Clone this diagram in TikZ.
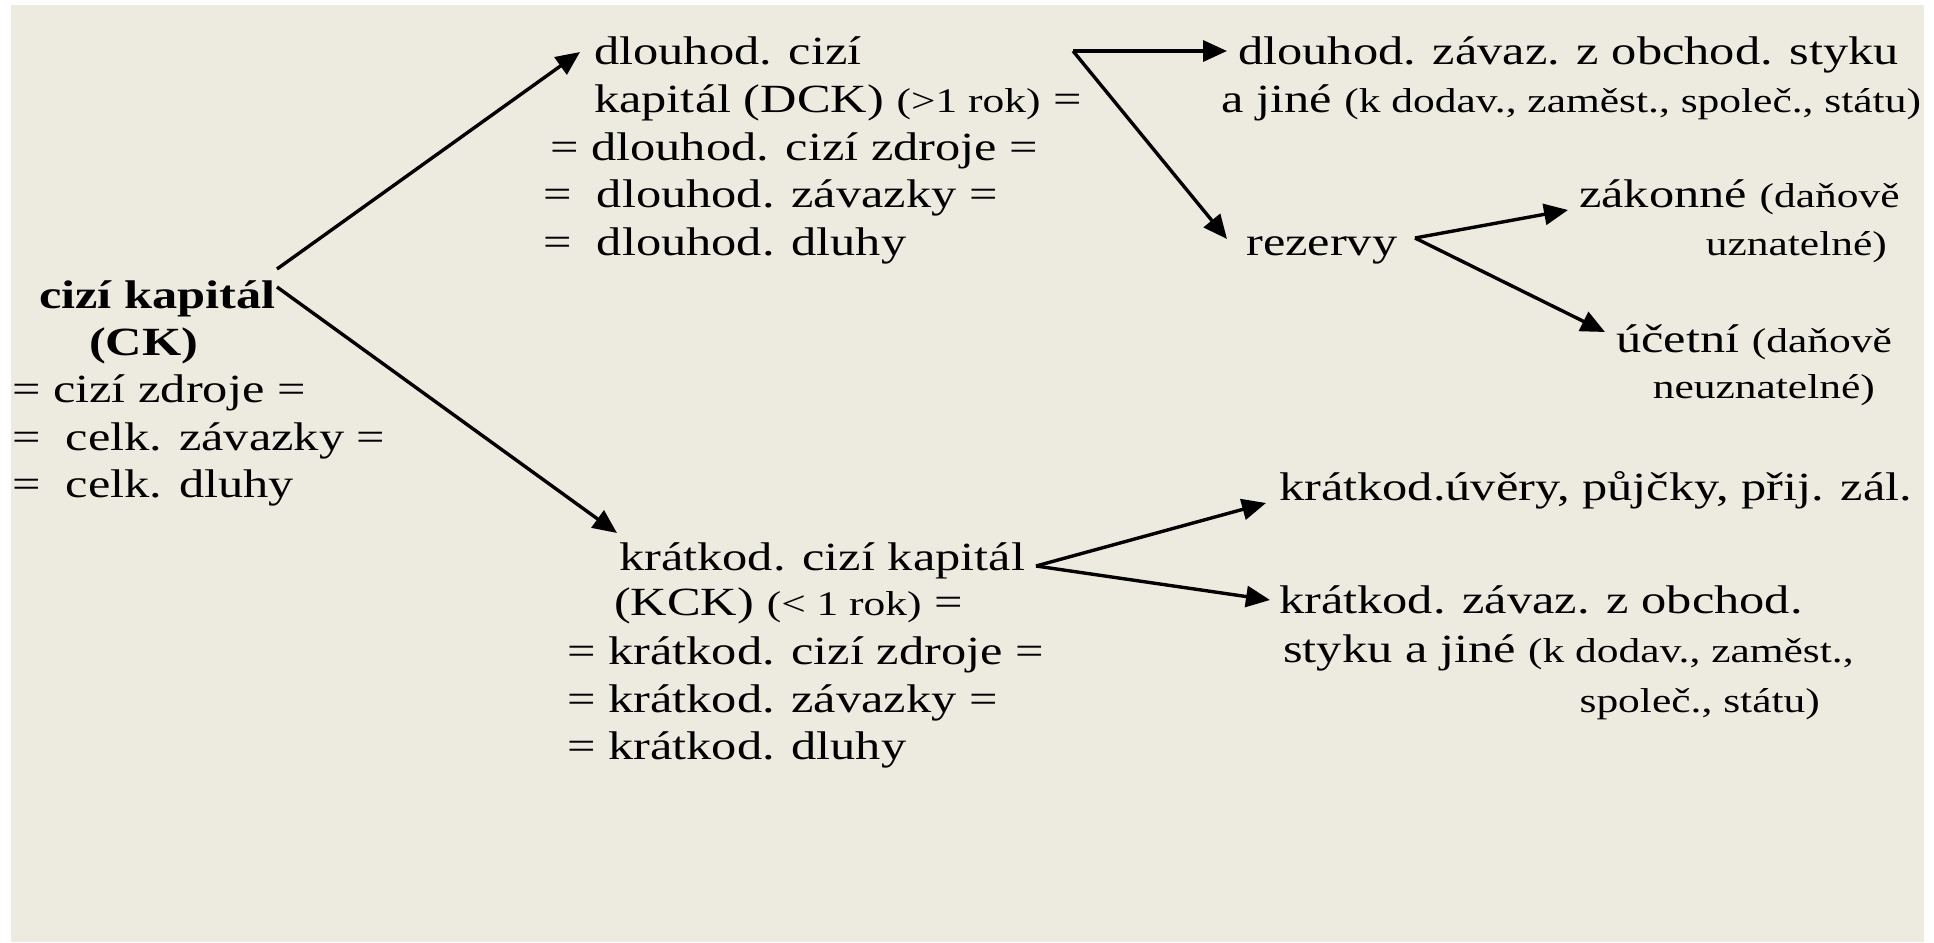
\documentclass[tikz,border=0pt]{standalone}
\usepackage{fontspec}
\setmainfont{Liberation Serif}[FakeStretch=1.26]
\usetikzlibrary{arrows.meta}
\definecolor{bgbeige}{RGB}{237,235,224}
\newcommand{\sm}{\fontsize{34.5}{40}\selectfont}
\begin{document}
\begin{tikzpicture}[x=1pt,y=-1pt,
  txt/.style={anchor=base west, inner sep=0pt, font=\fontsize{40}{48}\selectfont},
  txte/.style={anchor=base east, inner sep=0pt, font=\sm},
  arr/.style={line width=3.4pt, -{Triangle[length=24pt,width=21pt]}}]
\useasboundingbox (0,0) rectangle (1934,942);
\fill[white] (0,0) rectangle (1934,942);
\fill[bgbeige] (11,5) rectangle (1924,942);
% left block
\node[txt] (ck1) at (39,308) {\textbf{cizí kapitál}};
\node[txt] (ck2) at (89,355) {\textbf{(CK)}};
\node[txt] (ck3) at (12,402) {= cizí zdroje =};
\node[txt] (ck4) at (12,450) {=\ \ celk. závazky =};
\node[txt] (ck5) at (12,497) {=\ \ celk. dluhy};
% DCK block
\node[txt] (dck1) at (594,64) {dlouhod. cizí};
\node[txt] (dck2) at (594,112) {kapitál (DCK) {\sm(>1 rok)} =};
\node[txt] (dck3) at (550,160) {= dlouhod. cizí zdroje =};
\node[txt] (dck4) at (543,207) {=\ \ dlouhod. závazky =};
\node[txt] (dck5) at (543,255) {=\ \ dlouhod. dluhy};
% KCK block
\node[txt] (kck1) at (619,570) {krátkod. cizí kapitál};
\node[txt] (kck2) at (614,615) {(KCK) {\sm(< 1 rok)} =};
\node[txt] (kck3) at (567,664) {= krátkod. cizí zdroje =};
\node[txt] (kck4) at (567,712) {= krátkod. závazky =};
\node[txt] (kck5) at (567,759) {= krátkod. dluhy};
% right top
\node[txt] (r1) at (1238,64) {dlouhod. závaz. z obchod. styku};
\node[txt] (r2) at (1221,112) {a jiné {\sm(k dodav., zaměst., společ., státu)}};
\node[txt] (rez) at (1246,255) {rezervy};
\node[txt] (zak1) at (1579,207) {zákonné {\sm(daňově}};
\node[txte] (zak2) at (1887,255) {uznatelné)};
\node[txt] (uc1) at (1616,352) {účetní {\sm(daňově}};
\node[txte] (uc2) at (1875,398) {neuznatelné)};
% right bottom
\node[txt] (k1) at (1279,500) {krátkod.úvěry, půjčky, přij. zál.};
\node[txt] (k2) at (1279,613) {krátkod. závaz. z obchod.};
\node[txt] (k3) at (1283,662) {styku a jiné {\sm(k dodav., zaměst.,}};
\node[txte] (k4) at (1820,712) {společ., státu)};
% connector points
\coordinate (a0) at (277,269); \coordinate (a1) at (580,52);
\coordinate (b0) at (277,287); \coordinate (b1) at (617,533);
\coordinate (c0) at (1073,51); \coordinate (c1) at (1227,51); \coordinate (c2) at (1227,239);
\coordinate (d0) at (1415,238); \coordinate (d1) at (1568,210); \coordinate (d2) at (1605,332);
\coordinate (e0) at (1036,566); \coordinate (e1) at (1266,503); \coordinate (e2) at (1270,600);
\draw[arr] (a0) -- (a1);
\draw[arr] (b0) -- (b1);
\draw[arr] (c0) -- (c1);
\draw[arr] (c0) -- (c2);
\draw[arr] (d0) -- (d1);
\draw[arr] (d0) -- (d2);
\draw[arr] (e0) -- (e1);
\draw[arr] (e0) -- (e2);
\end{tikzpicture}
\end{document}
